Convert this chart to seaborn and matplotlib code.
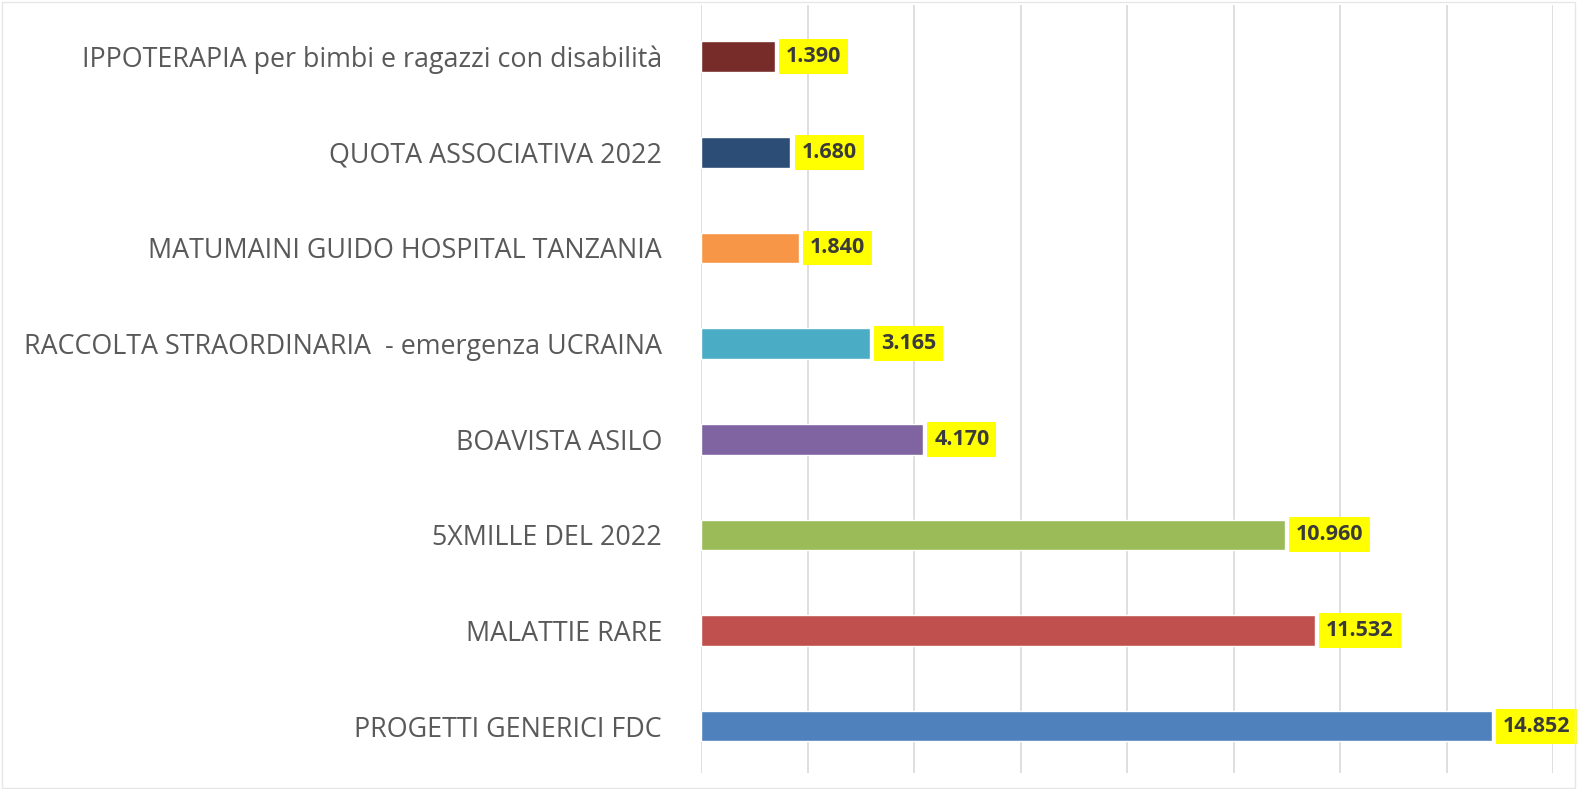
import matplotlib
matplotlib.use("Agg")
import matplotlib.pyplot as plt
import seaborn as sns
import pandas as pd
from matplotlib.patches import Rectangle

# data, top to bottom as in the chart
categories = [
    "IPPOTERAPIA per bimbi e ragazzi con disabilità",
    "QUOTA ASSOCIATIVA 2022",
    "MATUMAINI GUIDO HOSPITAL TANZANIA",
    "RACCOLTA STRAORDINARIA  - emergenza UCRAINA",
    "BOAVISTA ASILO",
    "5XMILLE DEL 2022",
    "MALATTIE RARE",
    "PROGETTI GENERICI FDC",
]
values = [1390, 1680, 1840, 3165, 4170, 10960, 11532, 14852]
colors = ["#772c2a", "#2c4d75", "#f79646", "#4bacc6",
          "#8064a2", "#9bbb59", "#c0504d", "#4f81bd"]

sns.set_theme(style="white")
plt.rcParams['font.family'] = ['Open Sans', 'DejaVu Sans']

df = pd.DataFrame({"Voce": categories, "Importo": values})

fig = plt.figure(figsize=(15.81, 7.89), dpi=100)
ax = fig.add_axes([701 / 1581, 1 - 773 / 789, 852 / 1581, 768 / 789])

sns.barplot(data=df, x="Importo", y="Voce", hue="Voce", palette=colors,
            legend=False, width=0.32, orient="h", ax=ax, saturation=1)

ax.set_xlim(0, 16000)
ax.set_ylim(7.49, -0.54)
ax.set_xticks(range(0, 16001, 2000))
ax.set_xticklabels([])
ax.tick_params(axis="x", length=0)
ax.tick_params(axis="y", length=0, pad=28, labelsize=19.4, labelcolor="#595959")
ax.grid(axis="x", color="#d9d9d9", linewidth=1.2)
ax.set_axisbelow(True)
ax.set_xlabel("")
ax.set_ylabel("")
for s in ax.spines.values():
    s.set_visible(False)

# value labels with yellow background (Italian thousands separator)
for i, v in enumerate(values):
    txt = f"{v:,}".replace(",", ".")
    ax.annotate(txt, xy=(v, i), xytext=(8, 0), textcoords="offset points",
                ha="left", va="center", fontsize=15.5, fontweight="bold",
                color="#3a3a3a", annotation_clip=False,
                bbox=dict(boxstyle="square,pad=0.32", fc="#ffff00", ec="none"))

# thin chart border
fig.patches.append(Rectangle((0.001, 0.001), 0.995, 0.997, transform=fig.transFigure,
                             fill=False, ec="#e6e6e6", lw=1))

fig.savefig("out.png", dpi=100)
